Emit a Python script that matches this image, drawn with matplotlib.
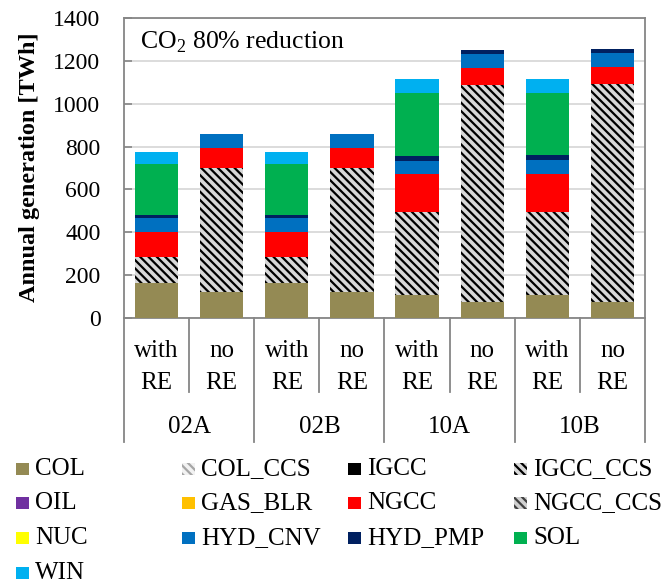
import numpy as np
import matplotlib
matplotlib.use("Agg")
import matplotlib.pyplot as plt
from matplotlib.patches import Rectangle
from matplotlib.lines import Line2D

plt.rcParams["font.family"] = ["Liberation Serif", "DejaVu Serif"]
plt.rcParams["mathtext.fontset"] = "custom"
plt.rcParams["mathtext.rm"] = "Liberation Serif"
plt.rcParams["hatch.linewidth"] = 1.6

# ---- data (TWh) ----
groups = ["02A", "02B", "10A", "10B"]
cases = ["with", "no", "with", "no", "with", "no", "with", "no"]

techs = ["COL", "COL_CCS", "IGCC", "IGCC_CCS",
         "OIL", "GAS_BLR", "NGCC", "NGCC_CCS",
         "NUC", "HYD_CNV", "HYD_PMP", "SOL", "WIN"]

col = [165, 122, 165, 122, 106, 76, 106, 75]
col_ccs = [0, 0, 0, 0, 0, 0, 0, 0]
igcc = [0, 0, 0, 0, 0, 0, 0, 0]
igcc_ccs = [122, 579, 119, 579, 389, 1010, 389, 1016]
oil = [0, 0, 0, 0, 0, 0, 0, 0]
gas_blr = [0, 0, 0, 0, 0, 0, 0, 0]
ngcc = [116, 92, 119, 94, 177, 83, 178, 82]
ngcc_ccs = [0, 0, 0, 0, 0, 0, 0, 0]
nuc = [0, 0, 0, 0, 0, 0, 0, 0]
hyd_cnv = [63, 64, 63, 65, 62, 64, 64, 63]
hyd_pmp = [16, 0, 16, 0, 23, 17, 23, 20]
sol = [237, 0, 235, 0, 292, 0, 289, 0]
win = [57, 0, 59, 0, 65, 0, 68, 0]

series = [col, col_ccs, igcc, igcc_ccs, oil, gas_blr, ngcc, ngcc_ccs,
          nuc, hyd_cnv, hyd_pmp, sol, win]

# (facecolor, hatch, hatch colour)
styles = {
    "COL": ("#948A54", None, None),
    "COL_CCS": ("#f2f2f2", "\\\\\\\\", "#a6a6a6"),
    "IGCC": ("#000000", None, None),
    "IGCC_CCS": ("#d8d8d8", "\\\\\\\\", "#000000"),
    "OIL": ("#7030A0", None, None),
    "GAS_BLR": ("#FFC000", None, None),
    "NGCC": ("#FF0000", None, None),
    "NGCC_CCS": ("#d0d0d0", "\\\\\\\\", "#404040"),
    "NUC": ("#FFFF00", None, None),
    "HYD_CNV": ("#0070C0", None, None),
    "HYD_PMP": ("#002060", None, None),
    "SOL": ("#00B050", None, None),
    "WIN": ("#00B0F0", None, None),
}

W, H = 669, 583
fig = plt.figure(figsize=(W / 100, H / 100), dpi=100)
ax = fig.add_axes([124 / W, 1 - 318 / H, (645 - 124) / W, 300 / H])

x = np.arange(len(cases))
bottom = np.zeros(len(cases))
for name, vals in zip(techs, series):
    fc, hatch, hc = styles[name]
    vals = np.array(vals, dtype=float)
    if hatch:
        ax.bar(x, vals, 0.665, bottom=bottom, facecolor=fc, hatch=hatch,
               edgecolor=hc, linewidth=0, zorder=3)
    else:
        ax.bar(x, vals, 0.665, bottom=bottom, color=fc, linewidth=0, zorder=3)
    bottom += vals

ax.set_xlim(-0.5, len(cases) - 0.5)
ax.set_ylim(0, 1400)
ax.set_yticks(np.arange(0, 1401, 200))
ax.yaxis.grid(True, color="#d9d9d9", linewidth=1.3, zorder=0)
ax.set_axisbelow(True)
ax.tick_params(axis="y", direction="in", length=6, width=1.2, color="#868686",
               labelsize=17, pad=17)
ax.set_xticks([])
for s in ax.spines.values():
    s.set_color("#868686")
    s.set_linewidth(1.3)

ax.text(0.031, 0.92, "CO$_\\mathrm{2}$ 80% reduction", transform=ax.transAxes,
        fontsize=18.5, va="center", ha="left")

fig.text(30 / W, 1 - 167 / H, "Annual generation [TWh]", rotation=90,
         fontsize=17.5, fontweight="bold", ha="center", va="center")

# two-level category axis
trans = ax.get_xaxis_transform()
for i, c in enumerate(cases):
    ax.text(i, (318 - 351) / 300, c, transform=trans, ha="center", va="center", fontsize=18)
    ax.text(i, (318 - 383) / 300, "RE", transform=trans, ha="center", va="center", fontsize=18)
for g, name in enumerate(groups):
    ax.text(2 * g + 0.5, (318 - 427) / 300, name, transform=trans,
            ha="center", va="center", fontsize=18)
for b in np.arange(-0.5, len(cases), 1.0):
    major = int(b + 0.5) % 2 == 0
    yend = (318 - 442) / 300 if major else (318 - 392) / 300
    ax.add_line(Line2D([b, b], [0, yend], transform=trans, color="#868686",
                       linewidth=1.3, clip_on=False))

# legend laid out in 4 columns, row by row
for i, name in enumerate(techs):
    c, r = i % 4, i // 4
    mx = 16 + c * 166
    my = 468.7 + r * 34.7
    fc, hatch, hc = styles[name]
    rect = Rectangle((mx / W, 1 - (my + 6) / H), 13 / W, 12 / H, transform=fig.transFigure,
                     facecolor=fc, hatch=hatch, edgecolor=hc if hc else fc, linewidth=0)
    fig.add_artist(rect)
    fig.text((mx + 19) / W, 1 - my / H, name, fontsize=18, ha="left", va="center")

fig.savefig("out.png", dpi=100)
